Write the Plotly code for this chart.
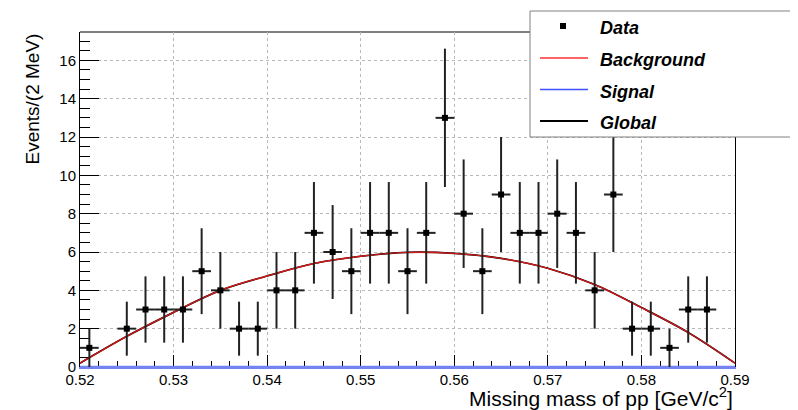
import plotly.graph_objects as go

# ---------------- data ----------------
bin_centers = [0.521, 0.525, 0.527, 0.529, 0.531, 0.533, 0.535, 0.537, 0.539,
               0.541, 0.543, 0.545, 0.547, 0.549, 0.551, 0.553, 0.555, 0.557,
               0.559, 0.561, 0.563, 0.565, 0.567, 0.569, 0.571, 0.573, 0.575,
               0.577, 0.579, 0.581, 0.583, 0.585, 0.587]
counts = [1, 2, 3, 3, 3, 5, 4, 2, 2,
          4, 4, 7, 6, 5, 7, 7, 5, 7,
          13, 8, 5, 9, 7, 7, 8, 7, 4,
          9, 2, 2, 1, 3, 3]
count_err = [1.0, 1.41, 1.73, 1.73, 1.73, 2.24, 2.0, 1.41, 1.41,
             2.0, 2.0, 2.65, 2.45, 2.24, 2.65, 2.65, 2.24, 2.65,
             3.61, 2.83, 2.24, 3.0, 2.65, 2.65, 2.83, 2.65, 2.0,
             3.0, 1.41, 1.41, 1.0, 1.73, 1.73]
half_bin = 0.001

curve_x = [0.520, 0.525, 0.530, 0.535, 0.540, 0.545, 0.550, 0.555,
           0.560, 0.565, 0.570, 0.575, 0.580, 0.585, 0.590]
background = [0.2, 1.6, 2.85, 4.0, 4.75, 5.4, 5.78, 5.98,
              5.93, 5.67, 5.15, 4.3, 3.1, 1.8, 0.2]
signal = [0.0, 0.0, 0.0, 0.0, 0.0, 0.0, 0.0, 0.0,
          0.0, 0.0, 0.0, 0.0, 0.0, 0.0, 0.0]
global_fit = [b + s for b, s in zip(background, signal)]

legend_labels = ["Data", "Background", "Signal", "Global"]

x_title = "Missing mass of pp [GeV/c<sup>2</sup>]"
y_title = "Events/(2 MeV)"

# ---------------- layout geometry (page pixels) ----------------
OFF = 8                       # default page body margin
W, H = 798 - OFF, 410 - OFF
L, R, T, B = 80, 735, 32, 367  # plot frame in page pixels
FONT = "Liberation Sans, Arial, Helvetica, sans-serif"


def px(x):
    return (x - L) / (R - L)


def py(y):
    return (B - y) / (B - T)


fig = go.Figure()

fig.add_trace(go.Scatter(
    x=curve_x, y=signal, mode="lines", line=dict(color="#7383f2", width=2.6),
    showlegend=False, hoverinfo="skip"))
fig.add_trace(go.Scatter(
    x=curve_x, y=global_fit, mode="lines", line=dict(color="#000000", width=1.7, shape="spline"),
    showlegend=False, hoverinfo="skip"))
fig.add_trace(go.Scatter(
    x=curve_x, y=background, mode="lines", line=dict(color="#d01818", width=1.4, shape="spline"),
    showlegend=False, hoverinfo="skip"))
fig.add_trace(go.Scatter(
    x=bin_centers, y=counts, mode="markers",
    marker=dict(symbol="square", size=6, color="black"),
    error_y=dict(type="data", array=count_err, visible=True, thickness=2, width=0, color="#222222"),
    error_x=dict(type="constant", value=half_bin, visible=True, thickness=2, width=0, color="#222222"),
    showlegend=False))

fig.update_xaxes(
    range=[0.52, 0.59], tick0=0.52, dtick=0.01, tickformat=".2f",
    ticks="inside", ticklen=12, tickcolor="black", tickwidth=1,
    showline=True, linecolor="#7383f2", linewidth=1.5, mirror=False,
    showgrid=True, gridcolor="#b8b8b8", griddash="dot", gridwidth=1,
    zeroline=False, layer="below traces",
    tickfont=dict(family=FONT, size=15, color="black"),
    ticklabelstandoff=-2,
    minor=dict(dtick=0.002, ticks="inside", ticklen=6, tickcolor="black", showgrid=False),
)
fig.update_yaxes(
    range=[0, 17.48], tick0=0, dtick=2,
    ticks="inside", ticklen=19, tickcolor="black", tickwidth=1,
    showline=True, linecolor="black", linewidth=1, mirror=True,
    showgrid=True, gridcolor="#b8b8b8", griddash="dot", gridwidth=1,
    zeroline=False, layer="below traces",
    tickfont=dict(family=FONT, size=15, color="black"),
    ticklabelstandoff=0,
    minor=dict(dtick=0.5, ticks="inside", ticklen=10, tickcolor="black", showgrid=False),
)

shapes = []
annotations = []

# top frame line
shapes.append(dict(type="line", xref="paper", yref="paper", x0=0, x1=1, y0=1, y1=1,
                   line=dict(color="black", width=1), layer="below"))
# legend box
shapes.append(dict(type="rect", xref="paper", yref="paper",
                   x0=px(530), x1=px(805), y0=py(11), y1=py(137),
                   line=dict(color="#808080", width=1), fillcolor="white", layer="above"))
# data marker
shapes.append(dict(type="rect", xref="paper", yref="paper",
                   x0=px(560), x1=px(566), y0=py(23), y1=py(29),
                   line=dict(width=0), fillcolor="black", layer="above"))
# legend lines
leg_lines = [(58, "#ff3030", 1.4), (89.5, "#3f4fff", 1.4), (121, "#000000", 2)]
for yy, col, w in leg_lines:
    shapes.append(dict(type="line", xref="paper", yref="paper",
                       x0=px(540), x1=px(588), y0=py(yy), y1=py(yy),
                       line=dict(color=col, width=w), layer="above"))

leg_text_y = [28, 60, 91.5, 123]
for lab, yy in zip(legend_labels, leg_text_y):
    annotations.append(dict(text=f"<b><i>{lab}</i></b>", xref="paper", yref="paper",
                            x=px(598), y=py(yy), xanchor="left", yanchor="middle",
                            showarrow=False, font=dict(family=FONT, size=18, color="black")))

# axis titles
annotations.append(dict(text=x_title, xref="paper", yref="paper", x=1, y=py(397),
                        xanchor="right", yanchor="middle", showarrow=False,
                        font=dict(family=FONT, size=21, color="black")))
annotations.append(dict(text=y_title, xref="paper", yref="paper", x=px(32), y=1,
                        xanchor="center", yanchor="top", textangle=-90, showarrow=False,
                        font=dict(family=FONT, size=19, color="black")))

fig.update_layout(
    width=W, height=H,
    margin=dict(l=L - OFF, r=W - (R - OFF), t=T - OFF, b=H - (B - OFF), pad=0),
    paper_bgcolor="white", plot_bgcolor="white",
    shapes=shapes, annotations=annotations,
    showlegend=False,
    font=dict(family=FONT, color="black"),
)

fig.write_html("out.html")
